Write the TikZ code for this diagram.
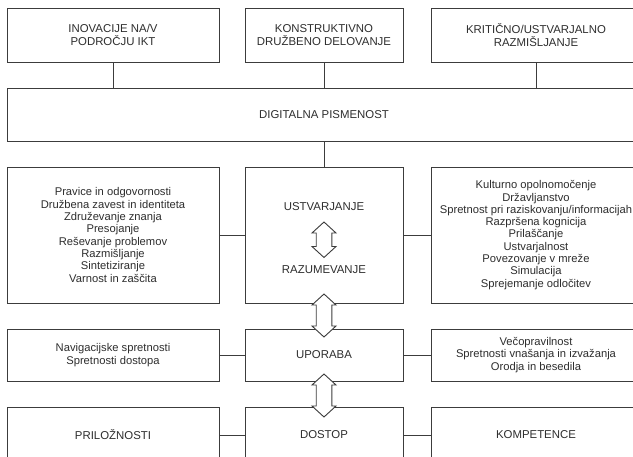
\documentclass[tikz,border=0pt]{standalone}
\usepackage{fontspec}
\setmainfont{Liberation Sans}
\definecolor{linec}{HTML}{3C3C3C}
\definecolor{txtc}{HTML}{2E2E2E}
\begin{document}
\begin{tikzpicture}[x=1pt,y=-1pt,
  box/.style={draw=linec, line width=0.9pt, rectangle, align=center, inner sep=0pt, text=txtc, font=\fontsize{11.2}{12.3}\selectfont},
  capbox/.style={box, font=\fontsize{11.4}{13.8}\selectfont},
  lbl/.style={text=txtc, font=\fontsize{11.4}{13.8}\selectfont, inner sep=0pt},
  wl/.style={minimum width=212pt},
  wc/.style={minimum width=158pt},
  wr/.style={minimum width=210pt},
  conn/.style={draw=linec, line width=0.9pt},
  dbl/.style={draw=linec, fill=white, line width=0.9pt, line join=miter}
]
\useasboundingbox (0,0) rectangle (633,457);
\fill[white] (0,0) rectangle (633,457);

% top row
\node[capbox, wl, minimum height=54pt] (t1) at (113,35) {INOVACIJE NA/V\\PODROČJU IKT};
\node[capbox, wc, minimum height=54pt] (t2) at (324,35) {KONSTRUKTIVNO\\DRUŽBENO DELOVANJE};
\node[capbox, wr, minimum height=54pt] (t3) at (536,35) {KRITIČNO/USTVARJALNO\\RAZMIŠLJANJE};

% digital literacy
\node[capbox, minimum width=634pt, minimum height=53pt] (dp) at (324,114.5) {DIGITALNA PISMENOST};

% middle row
\node[box, wl, minimum height=136pt] (l1) at (113,235) {Pravice in odgovornosti\\Družbena zavest in identiteta\\Združevanje znanja\\Presojanje\\Reševanje problemov\\Razmišljanje\\Sintetiziranje\\Varnost in zaščita};
\node[box, wc, minimum height=136pt] (c1) at (324,235) {};
\node[box, wr, minimum height=136pt] (r1) at (536,235) {Kulturno opolnomočenje\\Državljanstvo\\Spretnost pri raziskovanju/informacijah\\Razpršena kognicija\\Prilaščanje\\Ustvarjalnost\\Povezovanje v mreže\\Simulacija\\Sprejemanje odločitev};
\node[lbl] (ust) at (324,206.5) {USTVARJANJE};
\node[lbl] (raz) at (324,270) {RAZUMEVANJE};

% use row
\node[box, wl, minimum height=52pt] (l2) at (113,355) {Navigacijske spretnosti\\Spretnosti dostopa};
\node[capbox, wc, minimum height=52pt] (c2) at (324,355) {UPORABA};
\node[box, wr, minimum height=52pt] (r2) at (536,355) {Večopravilnost\\Spretnosti vnašanja in izvažanja\\Orodja in besedila};

% access row
\node[capbox, wl, minimum height=56pt] (l3) at (113,435) {PRILOŽNOSTI};
\node[capbox, wc, minimum height=56pt] (c3) at (324,435) {DOSTOP};
\node[capbox, wr, minimum height=56pt] (r3) at (536,435) {KOMPETENCE};

% connectors
\draw[conn] (t1.south) -- (t1.south |- dp.north);
\draw[conn] (t2.south) -- (t2.south |- dp.north);
\draw[conn] (t3.south) -- (t3.south |- dp.north);
\draw[conn] (dp.south -| c1.north) -- (c1.north);
\draw[conn] (l1.east) -- (c1.west);
\draw[conn] (c1.east) -- (r1.west);
\draw[conn] (l2.east) -- (c2.west);
\draw[conn] (c2.east) -- (r2.west);
\draw[conn] (l3.east) -- (c3.west);
\draw[conn] (c3.east) -- (r3.west);

% double arrows
\newcommand{\dblarrow}[3]{%
  \filldraw[dbl] (#1,#2) -- (#1+12,#2+11) -- (#1+7.8,#2+11) -- (#1+7.8,#3-11) -- (#1+12,#3-11) -- (#1,#3)
    -- (#1-12,#3-11) -- (#1-7.8,#3-11) -- (#1-7.8,#2+11) -- (#1-12,#2+11) -- cycle;}
\dblarrow{324}{222}{257.5}
\dblarrow{324}{294}{337}
\dblarrow{324}{374}{417}
\end{tikzpicture}
\end{document}
